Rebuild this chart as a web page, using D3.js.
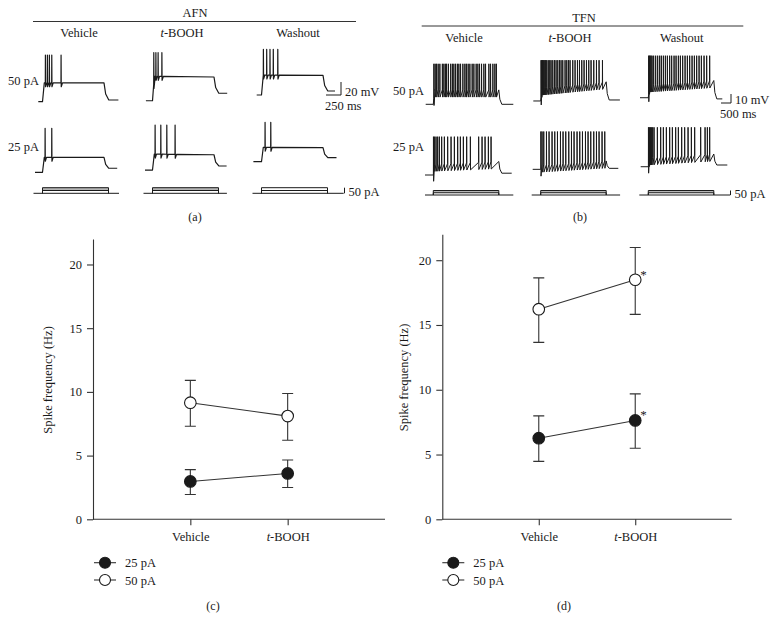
<!DOCTYPE html>
<html><head><meta charset="utf-8">
<script src="https://cdn.jsdelivr.net/npm/d3@7"></script>
<style>
body{margin:0;background:#fff}
svg{display:block}
text{font-family:"Liberation Serif","Times New Roman",serif;fill:#1a1a1a}
</style>
</head><body>
<svg id="fig" width="776" height="620"></svg>
<script>
// ================= DATA =================
const conditions = ["Vehicle", "t-BOOH", "Washout"];
const stepLabels = ["50 pA", "25 pA"];
const stimAmps = [25, 50];               // pA, both steps overlaid

// AFN (a) traces: levels = [pre, plateauStart, plateauEnd, post, spikePeak] (mV)
const afn50Levels = [[-60, -31, -31, -57.4, 11.8], [-58.5, -21, -22, -47, 15.4], [-49.7, -19, -19.5, -43.5, 20.6]];
const afn25Levels = [[-60, -37, -37, -53.8, 7.7], [-56.5, -32, -33, -50.3, 12.8], [-43.7, -21.5, -22, -37.5, 16.9]];
const afn50Spikes = [[47, 80, 113, 153, 308], [20, 55, 92, 155], [30, 85, 140, 195, 270]];   // ms after onset
const afn25Spikes = [[42, 153], [42, 137, 237, 375], [58, 153]];
const afn50Window = [[-70, 1265], [-110, 1245], [-80, 1225]];
const afn25Window = [[-125, 1245], [-125, 1235], [-135, 1250]];
const afnTraceDur = 1025, afnStimDur = 1100;

// TFN (b) traces
const tfn50Levels = [[-60, -44, -44, -60, -15], [-56.3, -42, -35, -55.2, -11], [-52.7, -38.6, -33.6, -54, -6]];
const tfn25Levels = [[-60, -48, -45, -58, -17.4], [-53.7, -49, -44.4, -52.6, -11.7], [-50.8, -41, -36.7, -48.9, -7]];
const tfn50Spikes = [
  [25, 90, 160, 240, 325, 450, 525, 600, 660, 750, 865, 950, 1025, 1110, 1200, 1275, 1360, 1475, 1575, 1650, 1740, 1825, 1940, 2025, 2140, 2225, 2310, 2410, 2525, 2610, 2775, 2860, 2975, 3075, 3150],
  [15, 50, 85, 125, 165, 210, 250, 300, 375, 450, 515, 600, 685, 765, 850, 935, 1015, 1100, 1215, 1300, 1385, 1465, 1600, 1715, 1835, 1935, 2050, 2165, 2285, 2400, 2515, 2650, 2785, 2915, 3085],
  [15, 50, 90, 135, 185, 265, 365, 465, 565, 650, 750, 850, 950, 1065, 1165, 1285, 1385, 1500, 1600, 1715, 1835, 1950, 2065, 2185, 2300, 2415, 2535, 2650, 2785, 2915, 3065]
];
const tfn25Spikes = [
  [5, 65, 135, 215, 300, 415, 550, 715, 885, 1050, 1215, 1350, 1500, 1665, 1850, 2265, 2435, 2585, 2750, 2885],
  [5, 65, 150, 285, 415, 565, 700, 835, 985, 1115, 1250, 1400, 1535, 1665, 1815, 1950, 2085, 2235, 2365, 2500, 2650, 2785, 2915, 3065, 3200],
  [5, 50, 100, 150, 215, 285, 450, 615, 750, 900, 1065, 1200, 1365, 1500, 1665, 1815, 1985, 2150, 2315, 2615, 2835, 2950, 3065]
];
const tfn50Window = [[-380, 4000], [-370, 3960], [-415, 3700]];
const tfn25Window = [[-415, 3920], [-400, 3880], [-380, 3950]];
const tfnTraceDur = 3275, tfnStimDur = 3275;

// Spike frequency summaries (Hz): mean, upper error, lower error
const groups = ["Vehicle", "t-BOOH"];
const series = ["25 pA", "50 pA"];
const afnMean25 = [2.97, 3.6],  afnHi25 = [3.9, 4.65],  afnLo25 = [1.95, 2.5];
const afnMean50 = [9.15, 8.1],  afnHi50 = [10.9, 9.87], afnLo50 = [7.3, 6.2];
const tfnMean25 = [6.26, 7.63], tfnHi25 = [7.98, 9.68], tfnLo25 = [4.47, 5.49];
const tfnMean50 = [16.22, 18.49], tfnHi50 = [18.64, 20.98], tfnLo50 = [13.66, 15.82];
const tfnSignif25 = [false, true], tfnSignif50 = [false, true];
const yTicks = [0, 5, 10, 15, 20];

// ================= DRAWING =================
const svg = d3.select("#fig");
const INK = "#1a1a1a";

function condLabel(sel, name) {
  if (name === "t-BOOH") {
    sel.append("tspan").attr("font-style", "italic").text("t");
    sel.append("tspan").text("-BOOH");
  } else sel.text(name);
}

function tracePoints(levels, spikes, win, dur, o) {
  const [pre, p0, p1, post, peak] = levels;
  const plat = t => p0 + (p1 - p0) * Math.max(0, t) / dur;
  const baseAt = t => t < o.rise ? pre + (plat(o.rise) - pre) * t / o.rise : plat(t);
  const pts = [[win[0], pre], [0, pre]];
  let riseAdded = false;
  spikes.forEach((s, i) => {
    if (!riseAdded && s > o.rise) { pts.push([o.rise, plat(o.rise)]); riseAdded = true; }
    const b = baseAt(s);
    const next = i < spikes.length - 1 ? spikes[i + 1] : dur;
    pts.push([s, b], [s + o.up, peak], [s + o.up + o.down, b - o.ahp]);
    const rec = Math.min(o.recov, next - s - 1.5);
    if (rec > o.up + o.down + 0.5) pts.push([s + rec, baseAt(s + rec)]);
  });
  if (!riseAdded) pts.push([o.rise, plat(o.rise)]);
  pts.push([dur, plat(dur)], [dur + o.decay * 0.35, post + (plat(dur) - post) * 0.35], [dur + o.decay, post], [win[1], post]);
  return pts;
}

function drawPanel(cfg) {
  const g = svg.append("g");
  g.append("text").attr("x", cfg.titleX).attr("y", cfg.titleY).attr("text-anchor", "middle")
    .attr("font-size", 12.5).text(cfg.title);
  g.append("line").attr("x1", cfg.ruleX[0]).attr("x2", cfg.ruleX[1]).attr("y1", cfg.ruleY).attr("y2", cfg.ruleY)
    .attr("stroke", "#333").attr("stroke-width", 1);
  conditions.forEach((c, i) => {
    g.append("text").attr("x", cfg.colLabelX[i]).attr("y", cfg.colLabelY).attr("text-anchor", "middle")
      .attr("font-size", 12.5).call(condLabel, c);
  });
  stepLabels.forEach((s, r) => {
    g.append("text").attr("x", cfg.rowLabelX).attr("y", cfg.rowLabelY[r]).attr("font-size", 12.5).text(s);
  });
  const line = d3.line();
  const rows = [[cfg.levels50, cfg.spikes50, cfg.win50], [cfg.levels25, cfg.spikes25, cfg.win25]];
  rows.forEach(([levels, spikes, wins], r) => {
    const y = d3.scaleLinear().domain([-60, -60 + cfg.mVbar]).range([cfg.rowY[r], cfg.rowY[r] - cfg.mVpx]);
    conditions.forEach((c, i) => {
      const x = d3.scaleLinear().domain([0, cfg.msBar]).range([cfg.onsetX[i], cfg.onsetX[i] + cfg.msPx]);
      const pts = tracePoints(levels[i], spikes[i], wins[i], cfg.traceDur, cfg.shape);
      g.append("path").attr("d", line.x(d => x(d[0])).y(d => y(d[1]))(pts))
        .attr("fill", "none").attr("stroke", INK).attr("stroke-width", cfg.traceW)
        .attr("stroke-linejoin", "round");
    });
  });
  const yI = d3.scaleLinear().domain([0, 50]).range([cfg.stimY, cfg.stimY - cfg.stimPx]);
  conditions.forEach((c, i) => {
    const x = d3.scaleLinear().domain([0, cfg.msBar]).range([cfg.onsetX[i], cfg.onsetX[i] + cfg.msPx]);
    const w = cfg.stimBase[i];
    g.append("line").attr("x1", x(w[0])).attr("x2", x(w[1])).attr("y1", yI(0)).attr("y2", yI(0))
      .attr("stroke", INK).attr("stroke-width", 1);
    g.append("rect").attr("x", x(0)).attr("width", x(cfg.stimDur) - x(0))
      .attr("y", yI(stimAmps[1])).attr("height", yI(stimAmps[0]) - yI(stimAmps[1]))
      .attr("fill", cfg.stimFill[i]).attr("stroke", "none");
    const p = d3.path();
    stimAmps.forEach(a => {
      p.moveTo(x(0), yI(0)); p.lineTo(x(0), yI(a)); p.lineTo(x(cfg.stimDur), yI(a)); p.lineTo(x(cfg.stimDur), yI(0));
    });
    g.append("path").attr("d", p.toString()).attr("fill", "none").attr("stroke", INK).attr("stroke-width", 1);
  });
  const sb = cfg.scaleBar;
  g.append("path").attr("d", `M${sb.x - cfg.msPx},${sb.y}H${sb.x}V${sb.y - cfg.mVpx}`)
    .attr("fill", "none").attr("stroke", INK).attr("stroke-width", 1);
  g.append("text").attr("x", sb.x + 4).attr("y", sb.y + 1).attr("font-size", 12.5).text(cfg.mVbar + " mV");
  g.append("text").attr("x", sb.x - cfg.msPx - 1).attr("y", sb.y + 14.5).attr("font-size", 12.5).text(cfg.msBar + " ms");
  g.append("line").attr("x1", sb.pAx).attr("x2", sb.pAx).attr("y1", yI(0)).attr("y2", yI(50))
    .attr("stroke", INK).attr("stroke-width", 1);
  g.append("text").attr("x", sb.pAx + 4).attr("y", yI(0) + 3).attr("font-size", 12.5).text("50 pA");
  g.append("text").attr("x", cfg.panelLabel[0]).attr("y", cfg.panelLabel[1]).attr("text-anchor", "middle")
    .attr("font-size", 12).text(cfg.panelLabel[2]);
}

drawPanel({
  title: "AFN", titleX: 195, titleY: 17, ruleX: [33, 356], ruleY: 21.5,
  colLabelX: [79, 182, 298], colLabelY: 37, rowLabelX: 8, rowLabelY: [85, 151],
  levels50: afn50Levels, spikes50: afn50Spikes, win50: afn50Window,
  levels25: afn25Levels, spikes25: afn25Spikes, win25: afn25Window,
  rowY: [101.7, 172.3], mVbar: 20, mVpx: 13, msBar: 250, msPx: 15,
  onsetX: [42.5, 152.5, 261.5], traceDur: afnTraceDur, stimDur: afnStimDur,
  shape: {rise: 30, up: 1.5, down: 3, ahp: 6, recov: 25, decay: 80}, traceW: 1.2,
  stimY: 193.3, stimPx: 5.6, stimFill: ["#b5b5b5", "#b5b5b5", "#ffffff"],
  stimBase: [[-150, 1275], [-150, 1240], [-150, 1370]],
  scaleBar: {x: 341, y: 95, pAx: 344.5},
  panelLabel: [195, 221, "(a)"]
});

drawPanel({
  title: "TFN", titleX: 584, titleY: 22, ruleX: [421.7, 743.3], ruleY: 26,
  colLabelX: [464, 570, 681.7], colLabelY: 42, rowLabelX: 393, rowLabelY: [95, 151],
  levels50: tfn50Levels, spikes50: tfn50Spikes, win50: tfn50Window,
  levels25: tfn25Levels, spikes25: tfn25Spikes, win25: tfn25Window,
  rowY: [104.3, 175], mVbar: 10, mVpx: 9, msBar: 500, msPx: 10,
  onsetX: [433.3, 540.7, 648.3], traceDur: tfnTraceDur, stimDur: tfnStimDur,
  shape: {rise: 60, up: 3, down: 8, ahp: 8, recov: 1000, decay: 150}, traceW: 1,
  stimY: 195, stimPx: 4.5, stimFill: ["#b5b5b5", "#b5b5b5", "#b5b5b5"],
  stimBase: [[-415, 4000], [-450, 3970], [-450, 4100]],
  scaleBar: {x: 731, y: 103, pAx: 730.5},
  panelLabel: [580, 221, "(b)"]
});

// ---------- spike frequency plots ----------
function drawPlot(cfg) {
  const g = svg.append("g");
  const y = d3.scaleLinear().domain([0, 22]).range([cfg.y0, cfg.yTop]);
  const step = (cfg.xEnd - cfg.x0) / 3;
  const x = d3.scalePoint().domain(groups).range([cfg.x0 + step, cfg.xEnd - step]);
  const ax = g.append("g").attr("transform", `translate(${cfg.x0},0)`)
    .call(d3.axisLeft(y).tickValues(yTicks).tickSize(6).tickPadding(5).tickSizeOuter(0));
  const bx = g.append("g").attr("transform", `translate(0,${cfg.y0})`)
    .call(d3.axisBottom(x).tickSize(6).tickPadding(5).tickSizeOuter(0).tickFormat(""));
  bx.select(".domain").attr("d", `M${cfg.x0},0H${cfg.xEnd}`);
  [ax, bx].forEach(a => {
    a.select(".domain").attr("stroke", "#333").attr("stroke-width", 1.1);
    a.selectAll(".tick line").attr("stroke", "#333").attr("stroke-width", 1.1);
    a.selectAll("text").attr("font-family", "Liberation Serif, Times New Roman, serif").attr("font-size", 12.5).attr("fill", INK);
  });
  bx.selectAll(".tick").each(function(d) {
    d3.select(this).append("text").attr("y", 22).attr("text-anchor", "middle")
      .attr("font-family", "Liberation Serif, Times New Roman, serif").attr("font-size", 12.5).attr("fill", INK)
      .call(condLabel, d);
  });
  g.append("text").attr("transform", `translate(${cfg.ylabX},${cfg.ylabY}) rotate(-90)`)
    .attr("text-anchor", "middle").attr("font-size", 12.5).text("Spike frequency (Hz)");

  const sets = [
    {mean: cfg.m25, hi: cfg.h25, lo: cfg.l25, fill: INK, sig: cfg.s25},
    {mean: cfg.m50, hi: cfg.h50, lo: cfg.l50, fill: "#fff", sig: cfg.s50}
  ];
  sets.forEach(s => {
    groups.forEach((k, i) => {
      const cx = x(k);
      g.append("path").attr("d", `M${cx},${y(s.lo[i])}V${y(s.hi[i])}M${cx - 5.5},${y(s.hi[i])}H${cx + 5.5}M${cx - 5.5},${y(s.lo[i])}H${cx + 5.5}`)
        .attr("stroke", "#333").attr("stroke-width", 1.1).attr("fill", "none");
    });
    g.append("path").attr("d", d3.line().x((d, i) => x(groups[i])).y(d => y(d))(s.mean))
      .attr("stroke", "#333").attr("stroke-width", 1.1).attr("fill", "none");
    groups.forEach((k, i) => {
      g.append("circle").attr("cx", x(k)).attr("cy", y(s.mean[i])).attr("r", 5.8)
        .attr("fill", s.fill).attr("stroke", INK).attr("stroke-width", 1.1);
      if (s.sig && s.sig[i]) {
        g.append("text").attr("x", x(k) + 5).attr("y", y(s.mean[i]) - 1).attr("font-size", 13).text("*");
      }
    });
  });
  series.forEach((name, j) => {
    const ly = cfg.legY[j];
    g.append("line").attr("x1", cfg.legX).attr("x2", cfg.legX + 22).attr("y1", ly).attr("y2", ly)
      .attr("stroke", "#333").attr("stroke-width", 1.1);
    g.append("circle").attr("cx", cfg.legX + 11).attr("cy", ly).attr("r", 5.5)
      .attr("fill", j === 0 ? INK : "#fff").attr("stroke", INK).attr("stroke-width", 1.1);
    g.append("text").attr("x", cfg.legX + 31).attr("y", ly + 4.5).attr("font-size", 12.5).text(name);
  });
  g.append("text").attr("x", cfg.panelLabel[0]).attr("y", 610).attr("text-anchor", "middle")
    .attr("font-size", 12).text(cfg.panelLabel[1]);
}

drawPlot({
  x0: 93, xEnd: 385, y0: 519.3, yTop: 239, ylabX: 52, ylabY: 380,
  m25: afnMean25, h25: afnHi25, l25: afnLo25, m50: afnMean50, h50: afnHi50, l50: afnLo50,
  s25: null, s50: null, legX: 94, legY: [562.7, 580], panelLabel: [213, "(c)"]
});
drawPlot({
  x0: 442.3, xEnd: 731.7, y0: 519.3, yTop: 234.3, ylabX: 408, ylabY: 377.5,
  m25: tfnMean25, h25: tfnHi25, l25: tfnLo25, m50: tfnMean50, h50: tfnHi50, l50: tfnLo50,
  s25: tfnSignif25, s50: tfnSignif50, legX: 442.3, legY: [562.7, 580], panelLabel: [564, "(d)"]
});
</script>
</body></html>
